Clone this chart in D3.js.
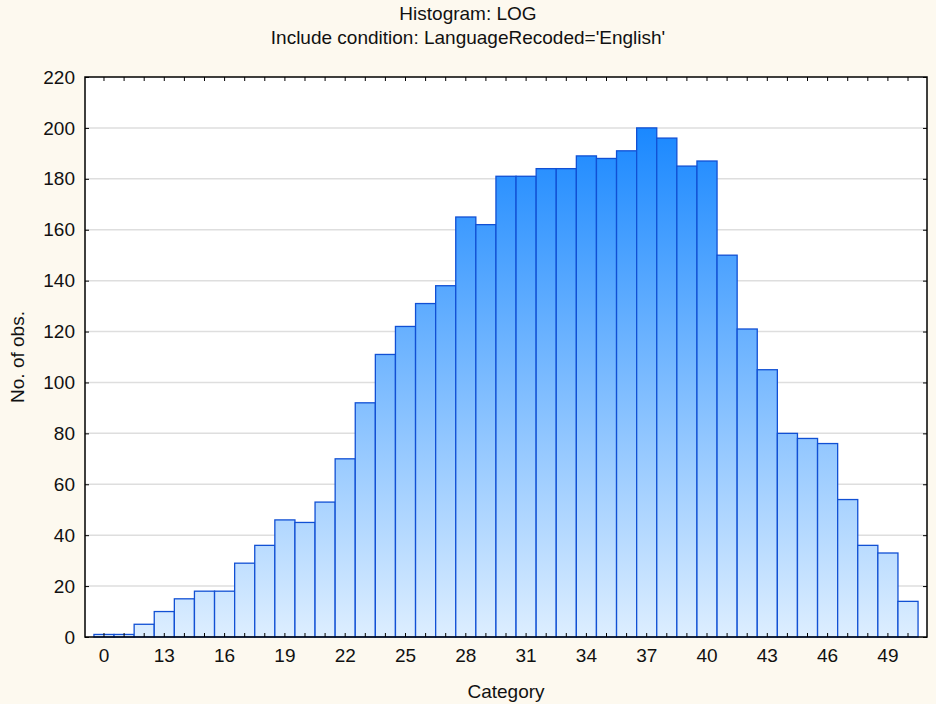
<!DOCTYPE html>
<html>
<head>
<meta charset="utf-8">
<script src="https://cdn.jsdelivr.net/npm/d3@7"></script>
<style>
  body { margin: 0; background: #fdf9ef; }
  text { font-family: "Liberation Sans", Arial, sans-serif; fill: #111; }
</style>
</head>
<body>
<div id="chartDiv"></div>
<script>
// bins as shown on the x axis (first bin is labelled 0)
const categories = ["0","11","12","13","14","15","16","17","18","19","20","21","22","23","24","25","26","27","28","29","30",
                    "31","32","33","34","35","36","37","38","39","40","41","42","43","44","45","46","47","48","49","50"];
const counts = [1, 1, 5, 10, 15, 18, 18, 29, 36, 46, 45, 53, 70, 92, 111, 122, 131, 138, 165, 162, 181,
                181, 184, 184, 189, 188, 191, 200, 196, 185, 187, 150, 121, 105, 80, 78, 76, 54, 36, 33, 14];
const xTickLabels = ["0","13","16","19","22","25","28","31","34","37","40","43","46","49"];
const yTicks = [0, 20, 40, 60, 80, 100, 120, 140, 160, 180, 200, 220];

const W = 936, H = 704;
const margin = { left: 85, right: 9, top: 77, bottom: 67 };
const plotW = W - margin.left - margin.right;
const plotH = H - margin.top - margin.bottom;

const svg = d3.select('#chartDiv').append('svg')
    .attr('width', W)
    .attr('height', H);

svg.append('rect').attr('width', W).attr('height', H).attr('fill', '#fdf9ef');

const defs = svg.append('defs');
const grad = defs.append('linearGradient')
    .attr('id', 'barGrad')
    .attr('gradientUnits', 'userSpaceOnUse')
    .attr('x1', 0).attr('x2', 0)
    .attr('y1', margin.top + 40).attr('y2', margin.top + plotH);
grad.append('stop').attr('offset', '0%').attr('stop-color', '#1686ff');
grad.append('stop').attr('offset', '100%').attr('stop-color', '#ddeeff');

const x = d3.scaleBand()
    .domain(categories)
    .range([margin.left, margin.left + plotW])
    .paddingInner(0)
    .paddingOuter(0.445);

const y = d3.scaleLinear()
    .domain([0, 220])
    .range([margin.top + plotH, margin.top]);

// plot background
svg.append('rect')
    .attr('x', margin.left).attr('y', margin.top)
    .attr('width', plotW).attr('height', plotH)
    .attr('fill', '#ffffff');

// gridlines
svg.append('g').selectAll('line')
    .data(yTicks.filter(d => d > 0 && d < 220))
    .enter().append('line')
    .attr('x1', margin.left).attr('x2', margin.left + plotW)
    .attr('y1', d => y(d)).attr('y2', d => y(d))
    .attr('stroke', '#dedede')
    .attr('stroke-width', 1.5);

// bars
svg.append('g').selectAll('rect')
    .data(counts)
    .enter().append('rect')
    .attr('x', (d, i) => x(categories[i]))
    .attr('y', d => y(d))
    .attr('width', x.bandwidth())
    .attr('height', d => y(0) - y(d))
    .attr('fill', 'url(#barGrad)')
    .attr('stroke', '#1150d4')
    .attr('stroke-width', 1.3);

// inward tick marks on all four sides
const tickLen = 4;
svg.append('g')
    .attr('transform', `translate(0,${margin.top + plotH})`)
    .call(d3.axisBottom(x).tickSize(-tickLen).tickFormat(''))
    .call(g => g.select('.domain').remove());
svg.append('g')
    .attr('transform', `translate(0,${margin.top})`)
    .call(d3.axisTop(x).tickSize(-tickLen).tickFormat(''))
    .call(g => g.select('.domain').remove());
svg.append('g')
    .attr('transform', `translate(${margin.left + plotW},0)`)
    .call(d3.axisRight(y).tickValues(yTicks).tickSize(-tickLen).tickFormat(''))
    .call(g => g.select('.domain').remove());

// labelled axes
const xAxis = svg.append('g')
    .attr('transform', `translate(0,${margin.top + plotH})`)
    .call(d3.axisBottom(x).tickValues(xTickLabels).tickSize(0).tickPadding(12));
xAxis.select('.domain').remove();
xAxis.selectAll('text').style('font-size', '19px');

const yAxis = svg.append('g')
    .attr('transform', `translate(${margin.left},0)`)
    .call(d3.axisLeft(y).tickValues(yTicks).tickSize(-tickLen).tickPadding(10));
yAxis.select('.domain').remove();
yAxis.selectAll('text').style('font-size', '19px');
yAxis.selectAll('line').attr('stroke', '#000');

// frame
svg.append('rect')
    .attr('x', margin.left).attr('y', margin.top)
    .attr('width', plotW).attr('height', plotH)
    .attr('fill', 'none')
    .attr('stroke', '#000')
    .attr('stroke-width', 1.5);

// titles
svg.append('text')
    .attr('x', W / 2).attr('y', 20)
    .attr('text-anchor', 'middle')
    .style('font-size', '19px')
    .text('Histogram: LOG');
svg.append('text')
    .attr('x', W / 2).attr('y', 44)
    .attr('text-anchor', 'middle')
    .style('font-size', '19px')
    .text("Include condition: LanguageRecoded='English'");

svg.append('text')
    .attr('x', margin.left + plotW / 2).attr('y', 698)
    .attr('text-anchor', 'middle')
    .style('font-size', '19px')
    .text('Category');

svg.append('text')
    .attr('transform', `translate(24,${margin.top + plotH / 2}) rotate(-90)`)
    .attr('text-anchor', 'middle')
    .style('font-size', '19px')
    .text('No. of obs.');
</script>
</body>
</html>
